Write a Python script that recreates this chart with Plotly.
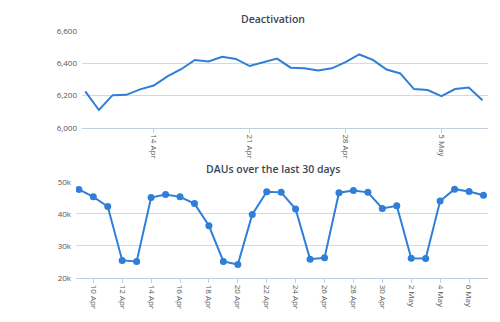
import pandas as pd
import plotly.graph_objects as go

# ---- data ----
deact_dates = pd.date_range("2013-04-09", "2013-05-08", freq="D")
deact_values = [6226, 6110, 6202, 6204, 6238, 6262, 6319, 6363, 6421, 6411,
                6441, 6427, 6383, 6405, 6429, 6373, 6369, 6355, 6369, 6407,
                6455, 6421, 6361, 6337, 6240, 6234, 6196, 6240, 6250, 6170]

dau_dates = pd.date_range("2013-04-09", "2013-05-07", freq="D")
dau_values = [47600, 45300, 42300, 25500, 25200, 45100, 46000, 45300, 43200,
              36300, 25200, 24200, 39800, 46900, 46700, 41500, 25900, 26300,
              46600, 47300, 46700, 41700, 42500, 26200, 26100, 44000, 47700,
              47000, 45800]

titles = ["Deactivation", "DAUs over the last 30 days"]
deact_yticks = [6000, 6200, 6400, 6600]
dau_yticks = [20000, 30000, 40000, 50000]
dau_ytext = ["20k", "30k", "40k", "50k"]

LINE = "#2f7ed8"
FONT = "Open Sans"
W, H = 500, 322

def px(x):
    return x / W

def py(y):
    return 1 - y / H

fig = go.Figure()
fig.add_trace(go.Scatter(x=deact_dates, y=deact_values, mode="lines",
                         line=dict(color=LINE, width=2), xaxis="x", yaxis="y",
                         showlegend=False))
fig.add_trace(go.Scatter(x=dau_dates, y=dau_values, mode="lines+markers",
                         line=dict(color=LINE, width=2),
                         marker=dict(color=LINE, size=7),
                         xaxis="x2", yaxis="y2", showlegend=False))

xcommon = dict(type="date", showgrid=False, showline=True, linecolor="#c0d0e0",
               linewidth=1, ticks="outside", ticklen=4, tickcolor="#c0d0e0",
               tickangle=90, tickformat="%-d %b",
               tickfont=dict(family=FONT, size=8, color="#555555"),
               zeroline=False, fixedrange=True)
ycommon = dict(showgrid=True, gridcolor="#d8d8d8", gridwidth=1, showline=False,
               zeroline=False, ticks="", ticklabelstandoff=4,
               tickfont=dict(family=FONT, size=8, color="#555555"))

fig.update_layout(
    width=W, height=H, margin=dict(l=0, r=0, t=0, b=0),
    paper_bgcolor="white", plot_bgcolor="white",
    xaxis=dict(xcommon, domain=[px(82), px(488)], anchor="y",
               range=["2013-04-08 18:20", "2013-05-08 09:40"],
               tick0="2013-04-14", dtick=7 * 86400000),
    yaxis=dict(ycommon, domain=[py(126), py(26)], anchor="x",
               range=[6000, 6600], tickvals=deact_yticks,
               ticktext=[f"{v:,}" for v in deact_yticks]),
    xaxis2=dict(xcommon, domain=[px(76), px(488)], anchor="y2",
                range=["2013-04-08 19:15", "2013-05-07 07:30"],
                tick0="2013-04-10", dtick=2 * 86400000),
    yaxis2=dict(ycommon, domain=[py(281.7), py(182)], anchor="x2",
                range=[20000, 50000], tickvals=dau_yticks, ticktext=dau_ytext),
    annotations=[
        dict(text=titles[0], x=px(273), y=py(13.3), xref="paper", yref="paper",
             showarrow=False, xanchor="center", yanchor="middle",
             font=dict(family=FONT, size=10.5, color="#3a4656", weight=600)),
        dict(text=titles[1], x=px(273), y=py(169), xref="paper", yref="paper",
             showarrow=False, xanchor="center", yanchor="middle",
             font=dict(family=FONT, size=10.5, color="#3a4656", weight=600)),
    ],
)

fig.write_html("out.html")
